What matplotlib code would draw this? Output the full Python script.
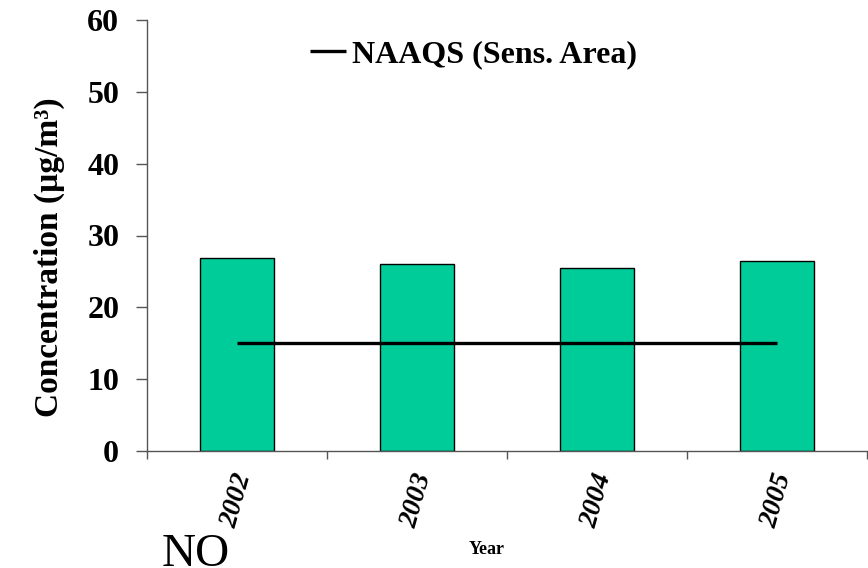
import matplotlib
matplotlib.use("Agg")
import matplotlib.pyplot as plt
from matplotlib.ticker import FixedLocator

years = ["2002", "2003", "2004", "2005"]
concentration = [26.9, 26.0, 25.5, 26.5]
naaqs = [15, 15, 15, 15]
yticks = [0, 10, 20, 30, 40, 50, 60]

plt.rcParams['font.family'] = ['Liberation Serif', 'DejaVu Serif']

fig = plt.figure(figsize=(8.68, 5.68), dpi=100)
ax = fig.add_axes([147/868, 1-451/568, (867-147)/868, (451-20)/568])

x = list(range(len(years)))
ax.bar(x, concentration, width=0.41, color="#00CC99", edgecolor="black", linewidth=1.0, zorder=2)
ax.plot(x, naaqs, color="black", linewidth=2.4, label="NAAQS (Sens. Area)", zorder=3, solid_capstyle="butt")

ax.set_xlim(-0.5, 3.5)
ax.set_ylim(0, 60)
ax.set_yticks(yticks)
ax.set_yticklabels([str(v) for v in yticks], fontsize=23, fontweight="bold")
ax.tick_params(axis="y", direction="out", length=8, width=1, pad=12, colors="#555555", labelcolor="black")

ax.set_xticks(x)
ax.set_xticklabels(years, fontsize=20, fontweight="bold", fontstyle="italic", rotation=74, ha="center", va="top")
ax.tick_params(axis="x", which="major", length=0, pad=14)
ax.xaxis.set_minor_locator(FixedLocator([-0.5, 0.5, 1.5, 2.5, 3.5]))
ax.tick_params(axis="x", which="minor", direction="out", length=6, width=1, colors="#555555")

for s in ["top", "right"]:
    ax.spines[s].set_visible(False)
for s in ["left", "bottom"]:
    ax.spines[s].set_color("#555555")
    ax.spines[s].set_linewidth(1.0)

ax.set_ylabel("Concentration (µg/m³)", fontsize=24, fontweight="bold")
ax.yaxis.set_label_coords(-0.114, (451-257)/431)

leg = ax.legend(loc="upper left", bbox_to_anchor=(0.187, 1.02), frameon=False,
                handlelength=1.1, handletextpad=0.2, prop={"size": 23, "weight": "bold"})

fig.text(487/868, 1-549/568, "Year", fontsize=13, fontweight="bold", ha="center", va="center")
fig.text(162/868, 1-533/568, "NO", fontsize=34, ha="left", va="top")

fig.savefig("out.png", dpi=100)
